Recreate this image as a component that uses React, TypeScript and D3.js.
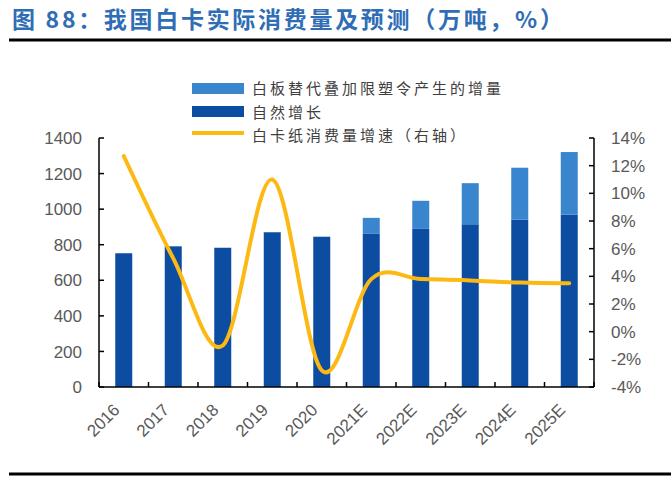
import React from 'react';
import * as d3 from 'd3';

const years = ['2016', '2017', '2018', '2019', '2020', '2021E', '2022E', '2023E', '2024E', '2025E'];
const natural = [752, 791, 783, 870, 845, 861, 889, 915, 941, 969];
const substitution = [0, 0, 0, 0, 0, 90, 158, 231, 292, 352];
const growth = [12.7, 5.3, -1.0, 11.0, -2.8, 3.8, 3.8, 3.7, 3.55, 3.5];
const leftTicks = [0, 200, 400, 600, 800, 1000, 1200, 1400];
const rightTicks = [-4, -2, 0, 2, 4, 6, 8, 10, 12, 14];

const title = '图 88：我国白卡实际消费量及预测（万吨，%）';
const legendLabels = ['白板替代叠加限塑令产生的增量', '自然增长', '白卡纸消费量增速（右轴）'];

const C_LIGHT = '#3A86CE';
const C_DARK = '#0C4DA2';
const C_LINE = '#FDB913';
const C_TEXT = '#595959';

export default function App() {
  const W = 671, H = 480;
  const left = 99, right = 594, top = 138, bottom = 387;
  const x = d3.scaleBand<string>().domain(years).range([left, right]).padding(0);
  const yL = d3.scaleLinear().domain([0, 1400]).range([bottom, top]);
  const yR = d3.scaleLinear().domain([-4, 14]).range([bottom, top]);
  const bw = 17;
  const cx = (y: string) => (x(y) as number) + x.bandwidth() / 2;
  const line = d3
    .line<number>()
    .x((_, i) => cx(years[i]))
    .y((d) => yR(d))
    .curve(d3.curveCatmullRom.alpha(0));
  const boundaries = d3.range(years.length + 1).map((i) => left + i * x.bandwidth());
  const tickFont = 'Liberation Sans, Arial, sans-serif';
  const cjk = '"Noto Sans CJK SC", sans-serif';

  return (
    <svg width={W} height={H} style={{ position: 'absolute', left: 0, top: 0, background: '#fff' }}>
      <text x={12} y={28} fontFamily={cjk} fontWeight={700} fontSize={23} fill="#2F6DB5" letterSpacing={2.7}>
        {title}
      </text>
      <rect x={9} y={38.5} width={662} height={3} fill="#000" />
      <rect x={9} y={472.5} width={662} height={3} fill="#000" />

      {/* legend */}
      <rect x={192} y={83} width={52} height={11} fill={C_LIGHT} />
      <rect x={192} y={106} width={52} height={11} fill={C_DARK} />
      <line x1={192} x2={244} y1={133} y2={133} stroke={C_LINE} strokeWidth={4} />
      {legendLabels.map((t, i) => (
        <text key={t} x={252} y={89 + i * 23.5} dy="0.36em" fontFamily={cjk} fontSize={15} fill="#404040" letterSpacing={3}>
          {t}
        </text>
      ))}

      {/* bars */}
      {years.map((yr, i) => (
        <g key={yr}>
          <rect x={cx(yr) - bw / 2} y={yL(natural[i])} width={bw} height={yL(0) - yL(natural[i])} fill={C_DARK} />
          {substitution[i] > 0 && (
            <rect
              x={cx(yr) - bw / 2}
              y={yL(natural[i] + substitution[i])}
              width={bw}
              height={yL(natural[i]) - yL(natural[i] + substitution[i])}
              fill={C_LIGHT}
            />
          )}
        </g>
      ))}

      {/* line */}
      <path d={line(growth) || ''} fill="none" stroke={C_LINE} strokeWidth={4} strokeLinecap="round" />

      {/* axes */}
      <g stroke="#000" strokeWidth={1.5}>
        <line x1={left} x2={left} y1={top} y2={bottom} />
        <line x1={right} x2={right} y1={top} y2={bottom} />
        <line x1={left} x2={right} y1={bottom} y2={bottom} />
        {leftTicks.map((t) => (
          <line key={'l' + t} x1={left} x2={left + 5} y1={yL(t)} y2={yL(t)} />
        ))}
        {rightTicks.map((t) => (
          <line key={'r' + t} x1={right - 5} x2={right} y1={yR(t)} y2={yR(t)} />
        ))}
        {boundaries.map((b, i) => (
          <line key={'b' + i} x1={b} x2={b} y1={bottom} y2={bottom - 5} />
        ))}
      </g>
      {leftTicks.map((t) => (
        <text key={'lt' + t} x={82} y={yL(t)} dy="0.36em" textAnchor="end" fontFamily={tickFont} fontSize={17} fill={C_TEXT}>
          {t}
        </text>
      ))}
      {rightTicks.map((t) => (
        <text key={'rt' + t} x={611} y={yR(t)} dy="0.36em" textAnchor="start" fontFamily={tickFont} fontSize={17} fill={C_TEXT}>
          {t + '%'}
        </text>
      ))}
      {years.map((yr) => (
        <text
          key={'x' + yr}
          x={0}
          y={0}
          transform={`translate(${cx(yr) - 3},${411}) rotate(-45)`}
          textAnchor="end"
          fontFamily={tickFont}
          fontSize={17}
          fill={C_TEXT}
        >
          {yr}
        </text>
      ))}
    </svg>
  );
}
